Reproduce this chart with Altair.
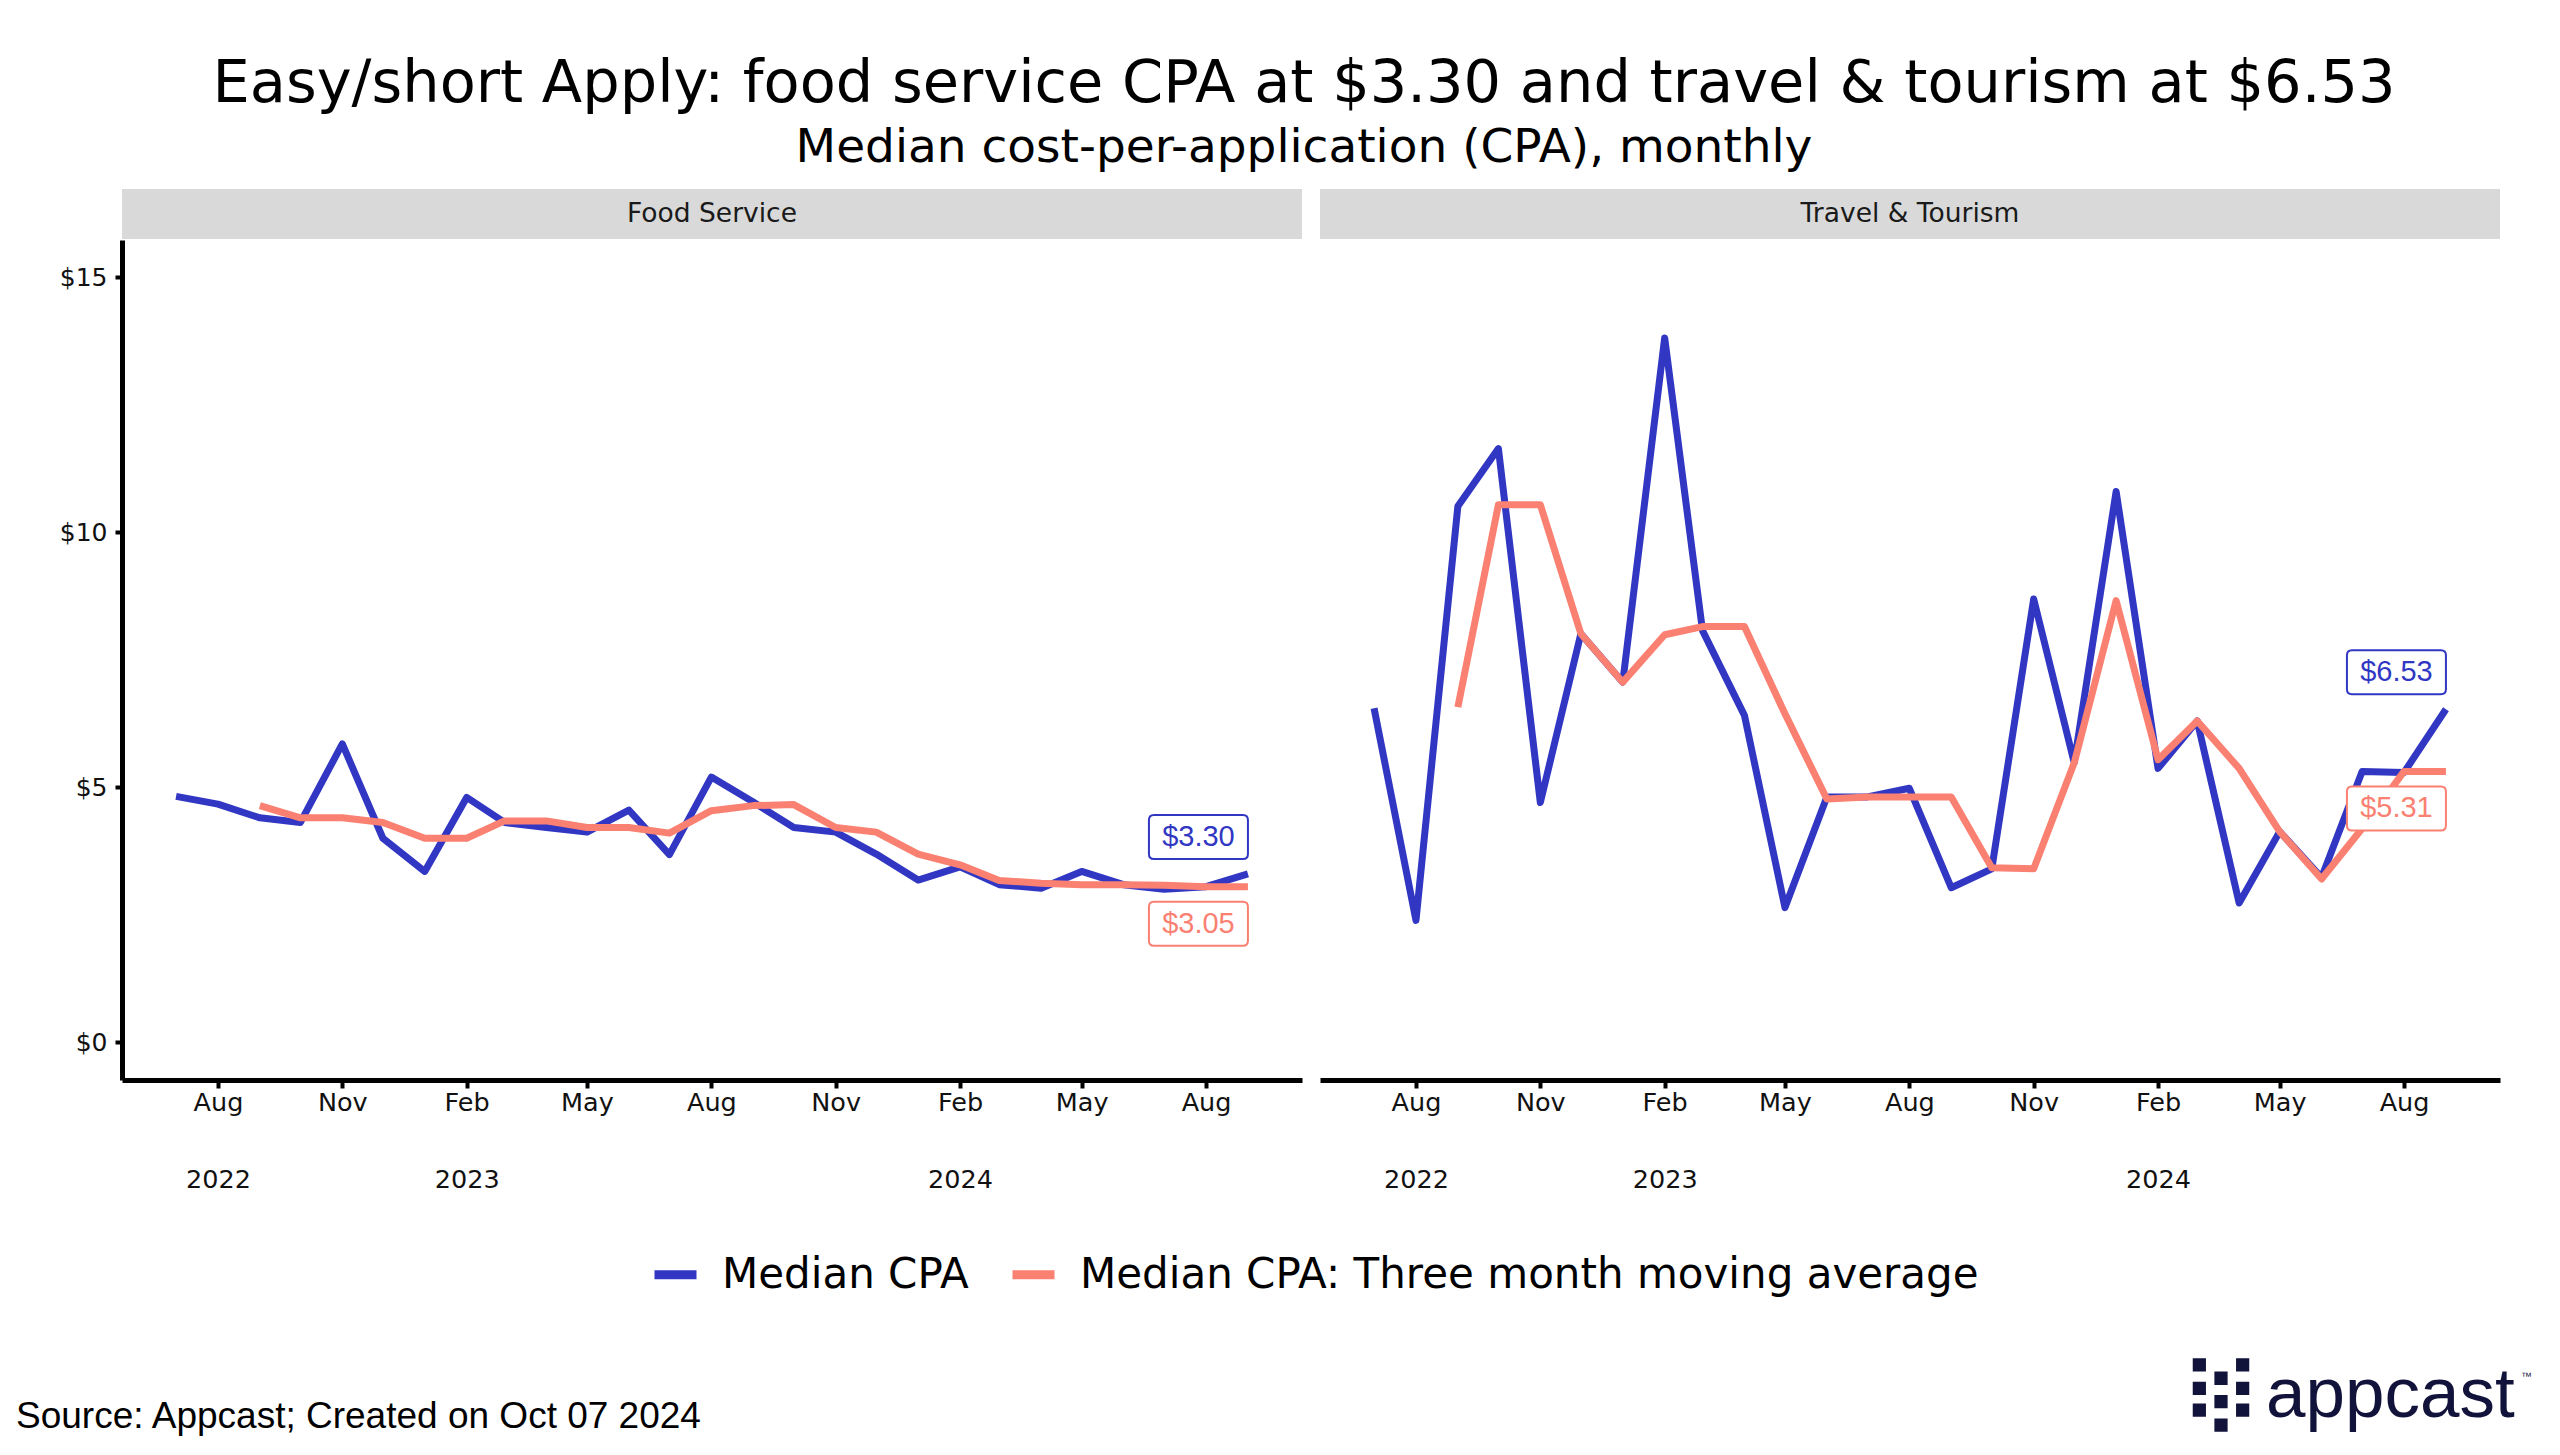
import altair as alt
import pandas as pd

# ---------------- data ----------------
months = ["2022-07-01", "2022-08-01", "2022-09-01", "2022-10-01", "2022-11-01", "2022-12-01",
          "2023-01-01", "2023-02-01", "2023-03-01", "2023-04-01", "2023-05-01", "2023-06-01",
          "2023-07-01", "2023-08-01", "2023-09-01", "2023-10-01", "2023-11-01", "2023-12-01",
          "2024-01-01", "2024-02-01", "2024-03-01", "2024-04-01", "2024-05-01", "2024-06-01",
          "2024-07-01", "2024-08-01", "2024-09-01"]
panels = ["Food Service", "Travel & Tourism"]
series_names = ["Median CPA", "Median CPA: Three month moving average"]

food_cpa = [4.82, 4.67, 4.40, 4.31, 5.85, 4.00, 3.35, 4.80, 4.31, 4.21, 4.12, 4.55, 3.68, 5.20,
            4.71, 4.21, 4.12, 3.69, 3.18, 3.44, 3.09, 3.02, 3.35, 3.09, 3.00, 3.05, 3.30]
food_ma = [None, None, 4.64, 4.40, 4.40, 4.31, 4.00, 4.00, 4.34, 4.34, 4.21, 4.21, 4.10, 4.54,
           4.64, 4.66, 4.21, 4.12, 3.69, 3.48, 3.17, 3.12, 3.09, 3.09, 3.08, 3.05, 3.05]
travel_cpa = [6.55, 2.39, 10.51, 11.64, 4.70, 8.01, 7.06, 13.81, 8.07, 6.41, 2.64, 4.81, 4.81, 4.98,
              3.03, 3.40, 8.69, 5.48, 10.80, 5.37, 6.30, 2.73, 4.13, 3.23, 5.31, 5.29, 6.53]
travel_ma = [None, None, 6.57, 10.54, 10.54, 8.01, 7.06, 7.99, 8.15, 8.15, 6.44, 4.77, 4.81, 4.81,
             4.81, 3.42, 3.40, 5.48, 8.66, 5.54, 6.30, 5.37, 4.13, 3.20, 4.19, 5.31, 5.31]

y_ticks = [0, 5, 10, 15]
x_ticks = [(2022, 8), (2022, 11), (2023, 2), (2023, 5), (2023, 8), (2023, 11),
           (2024, 2), (2024, 5), (2024, 8)]
x_domain = [(2022, 5, 22), (2024, 10, 11)]

title_text = "Easy/short Apply: food service CPA at $3.30 and travel & tourism at $6.53"
subtitle_text = "Median cost-per-application (CPA), monthly"
source_text = "Source: Appcast; Created on Oct 07 2024"
logo_text = "appcast"

# ---------------- style ----------------
BLUE = "#3137C3"
SALMON = "#FA8072"
NAVY = "#12133B"
FONT = "DejaVu Sans"
W, H = 1180, 840

rows = []
for panel, cpa, ma in [(panels[0], food_cpa, food_ma), (panels[1], travel_cpa, travel_ma)]:
    for m, v in zip(months, cpa):
        rows.append(dict(panel=panel, date=m, series=series_names[0], value=v))
    for m, v in zip(months, ma):
        rows.append(dict(panel=panel, date=m, series=series_names[1], value=v))
df = pd.DataFrame(rows)

xscale = alt.Scale(type="utc", domain=[alt.DateTime(year=a, month=b, date=c, utc=True) for a, b, c in x_domain])
yscale = alt.Scale(domain=[-0.74, 15.73], nice=False, zero=False)
cscale = alt.Scale(domain=series_names, range=[BLUE, SALMON])

first_tick = "%d-%02d" % x_ticks[0]
xaxis = alt.Axis(
    values=[alt.DateTime(year=a, month=b, date=1, utc=True) for a, b in x_ticks],
    labelExpr="[utcFormat(datum.value, '%b'), (utcmonth(datum.value) == 1 || utcFormat(datum.value, '%Y-%m') == '"
              + first_tick + "') ? utcFormat(datum.value, '%Y') : '']",
    title=None, grid=False, domainColor="black", domainWidth=5, tickColor="black", tickWidth=4,
    tickSize=8, labelFont=FONT, labelFontSize=25.5, labelColor="#111111", labelPadding=2,
    labelLineHeight=77, labelOverlap=False, labelFlush=False)
yaxis = alt.Axis(values=y_ticks, labelExpr="'$' + datum.value", title=None, grid=False,
                 domainColor="black", domainWidth=5, tickColor="black", tickWidth=4, tickSize=7,
                 labelFont=FONT, labelFontSize=25, labelColor="#111111", labelPadding=8)
legend = alt.Legend(title=None, orient="none", legendX=528, legendY=1009, direction="horizontal",
                    symbolType="stroke", symbolStrokeWidth=9, symbolSize=1764, labelFont=FONT,
                    labelFontSize=42, labelColor="black", labelOffset=21, columnPadding=25,
                    padding=0, labelLimit=3000)

BOX = ("M-0.899,-0.444H0.899Q1,-0.444 1,-0.343V0.343Q1,0.444 0.899,0.444H-0.899"
       "Q-1,0.444 -1,0.343V-0.343Q-1,-0.444 -0.899,-0.444Z")
ICON = ("M-0.77,-1H-0.41V-0.64H-0.77Z M-0.77,-0.36H-0.41V0H-0.77Z M-0.77,0.23H-0.41V0.59H-0.77Z "
        "M-0.18,-0.64H0.18V-0.27H-0.18Z M-0.18,0H0.18V0.36H-0.18Z M-0.18,0.64H0.18V1H-0.18Z "
        "M0.41,-1H0.77V-0.64H0.41Z M0.41,-0.36H0.77V0H0.41Z M0.41,0.23H0.77V0.59H0.41Z")


def panel_chart(i, cpa, ma):
    name = panels[i]
    x = alt.X("date:T", scale=xscale, axis=xaxis)
    y = alt.Y("value:Q", scale=yscale, axis=yaxis if i == 0 else None)
    lines = alt.Chart(df).transform_filter(alt.datum.panel == name).mark_line(
        strokeWidth=7, strokeJoin="round", strokeCap="butt").encode(
        x=x, y=y, color=alt.Color("series:N", scale=cscale, legend=legend))

    strip_df = pd.DataFrame({"panel": [name]})
    strip = alt.Chart(strip_df).mark_rect(color="#D9D9D9").encode(
        x=alt.value(0), x2=alt.value(W), y=alt.value(-51), y2=alt.value(-1))
    strip_txt = alt.Chart(strip_df).mark_text(font=FONT, fontSize=26.5, color="#1A1A1A",
                                              baseline="middle", align="center").encode(
        x=alt.value(W / 2), y=alt.value(-26), text="panel:N")

    layers = [strip, strip_txt, lines]
    for vals, col, dy in [(cpa, BLUE, -37), (ma, SALMON, 37)]:
        ldf = pd.DataFrame({"date": [months[-1]], "value": [vals[-1]],
                            "label": ["$%.2f" % vals[-1]]})
        box = alt.Chart(ldf).mark_point(shape=BOX, size=9801, filled=True, fill="white",
                                        stroke=col, strokeWidth=2, opacity=1,
                                        xOffset=-49.5, yOffset=dy).encode(x=x, y=y)
        txt = alt.Chart(ldf).mark_text(font="Liberation Sans", fontSize=29, color=col,
                                       xOffset=-49.5, yOffset=dy, baseline="middle",
                                       align="center").encode(x=x, y=y, text="label:N")
        layers += [box, txt]

    if i == 0:
        src = alt.Chart(pd.DataFrame({"t": [source_text]})).mark_text(
            font="Liberation Sans", fontSize=37, align="left", baseline="alphabetic",
            color="black").encode(x=alt.value(-106), y=alt.value(1188), text="t:N")
        layers.append(src)
    else:
        ldf = pd.DataFrame({"t": [logo_text]})
        icon = alt.Chart(ldf).mark_point(shape=ICON, size=5386, filled=True, color=NAVY,
                                         opacity=1).encode(x=alt.value(901), y=alt.value(1155))
        logo = alt.Chart(ldf).mark_text(font="Liberation Sans", fontSize=71, align="left",
                                        baseline="alphabetic", color=NAVY).encode(
            x=alt.value(946), y=alt.value(1177), text="t:N")
        tm = alt.Chart(pd.DataFrame({"t": ["™"]})).mark_text(
            font="Liberation Sans", fontSize=11, align="left", baseline="alphabetic",
            color=NAVY).encode(x=alt.value(1201), y=alt.value(1140), text="t:N")
        layers += [icon, logo, tm]
    return alt.layer(*layers).properties(width=W, height=H)


left = panel_chart(0, food_cpa, food_ma)
right = panel_chart(1, travel_cpa, travel_ma)

chart = alt.hconcat(left, right, spacing=18).resolve_scale(color="shared").properties(
    title=alt.TitleParams(text=title_text, subtitle=subtitle_text, font=FONT, fontSize=59,
                          fontWeight="normal", color="black", subtitleFont=FONT,
                          subtitleFontSize=47, subtitleColor="black", anchor="middle",
                          offset=18, subtitlePadding=11, dx=30),
    padding={"left": 8, "top": 47, "right": 8, "bottom": 8},
    background="white",
).configure_view(stroke=None)

chart.save("out.html", embed_options={"renderer": "svg", "actions": False})
